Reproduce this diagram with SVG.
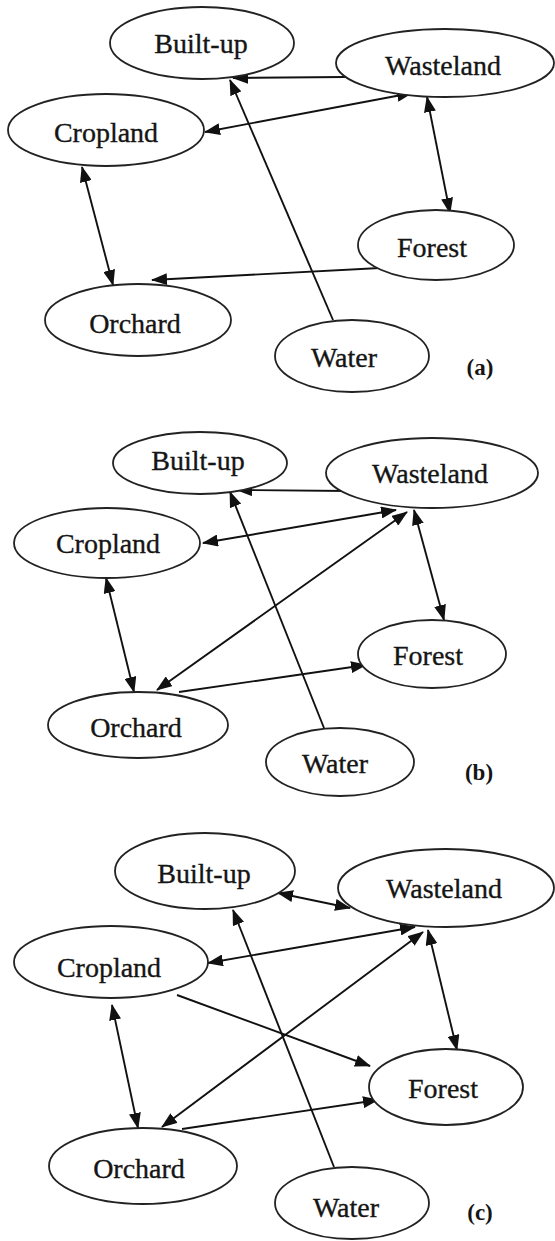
<svg xmlns="http://www.w3.org/2000/svg" width="555" height="1241" viewBox="0 0 555 1241">
<style>
.node ellipse{fill:#fff;stroke:#222;stroke-width:1.8}
.node text{font-family:"Liberation Serif","Times New Roman",serif;font-size:28px;fill:#151515;stroke:#151515;stroke-width:0.35;text-anchor:middle}
.lbl{font-family:"Liberation Serif","Times New Roman",serif;font-size:23px;font-weight:bold;fill:#151515;text-anchor:middle}
.edges line{stroke:#111;stroke-width:1.9;fill:none}
.one{marker-end:url(#ah)}
.two{marker-start:url(#ah);marker-end:url(#ah)}
</style>
<defs>
<marker id="ah" markerUnits="userSpaceOnUse" markerWidth="16" markerHeight="12" refX="15" refY="6" orient="auto-start-reverse" viewBox="0 0 16 12">
<path d="M0,0 L16,6 L0,12 z" fill="#111"/>
</marker>
</defs>
<rect width="555" height="1241" fill="#fff"/>

<!-- Panel (a) -->
<g id="a-edges" class="edges">
<line class="one" x1="345" y1="77" x2="233" y2="78"/>
<line class="one" x1="333" y1="320" x2="230" y2="80"/>
<line class="two" x1="205" y1="132" x2="412" y2="93"/>
<line class="two" x1="427" y1="97" x2="450" y2="213"/>
<line class="two" x1="82" y1="167" x2="113" y2="285"/>
<line class="one" x1="380" y1="268" x2="152" y2="280"/>
</g>
<g id="a-builtup" class="node"><ellipse cx="202" cy="43" rx="92" ry="36"/><text x="201" y="53">Built-up</text></g>
<g id="a-wasteland" class="node"><ellipse cx="445" cy="63" rx="109" ry="34"/><text x="443" y="75">Wasteland</text></g>
<g id="a-cropland" class="node"><ellipse cx="106" cy="130" rx="98" ry="36"/><text x="106" y="142">Cropland</text></g>
<g id="a-forest" class="node"><ellipse cx="436" cy="245" rx="78" ry="35"/><text x="432" y="257">Forest</text></g>
<g id="a-orchard" class="node"><ellipse cx="138" cy="320" rx="93" ry="36"/><text x="135" y="333">Orchard</text></g>
<g id="a-water" class="node"><ellipse cx="352" cy="356" rx="77" ry="36"/><text x="344" y="367">Water</text></g>
<text class="lbl" x="480" y="375">(a)</text>

<!-- Panel (b) -->
<g id="b-edges" class="edges">
<line class="one" x1="348" y1="491" x2="237" y2="490"/>
<line class="one" x1="324" y1="728" x2="230" y2="492"/>
<line class="two" x1="203" y1="543" x2="396" y2="510"/>
<line class="two" x1="157" y1="690" x2="407" y2="512"/>
<line class="two" x1="414" y1="510" x2="444" y2="620"/>
<line class="two" x1="106" y1="578" x2="134" y2="692"/>
<line class="one" x1="179" y1="692" x2="366" y2="665"/>
</g>
<g id="b-builtup" class="node"><ellipse cx="200" cy="463" rx="87" ry="31"/><text x="198" y="470">Built-up</text></g>
<g id="b-wasteland" class="node"><ellipse cx="432" cy="473" rx="106" ry="35"/><text x="430" y="483">Wasteland</text></g>
<g id="b-cropland" class="node"><ellipse cx="107" cy="543" rx="93" ry="35"/><text x="108" y="553">Cropland</text></g>
<g id="b-forest" class="node"><ellipse cx="432" cy="654" rx="74" ry="34"/><text x="428" y="665">Forest</text></g>
<g id="b-orchard" class="node"><ellipse cx="138" cy="725" rx="90" ry="33"/><text x="136" y="737">Orchard</text></g>
<g id="b-water" class="node"><ellipse cx="340" cy="762" rx="74" ry="34"/><text x="335" y="773">Water</text></g>
<text class="lbl" x="479" y="780">(b)</text>

<!-- Panel (c) -->
<g id="c-edges" class="edges">
<line class="two" x1="278" y1="893" x2="350" y2="908"/>
<line class="one" x1="334" y1="1167" x2="233" y2="910"/>
<line class="two" x1="208" y1="963" x2="415" y2="927"/>
<line class="two" x1="162" y1="1127" x2="423" y2="932"/>
<line class="two" x1="428" y1="930" x2="457" y2="1050"/>
<line class="two" x1="112" y1="1005" x2="138" y2="1128"/>
<line class="one" x1="177" y1="995" x2="370" y2="1066"/>
<line class="one" x1="182" y1="1129" x2="378" y2="1100"/>
</g>
<g id="c-builtup" class="node"><ellipse cx="205" cy="871" rx="90" ry="38"/><text x="204" y="883">Built-up</text></g>
<g id="c-wasteland" class="node"><ellipse cx="446" cy="888" rx="108" ry="39"/><text x="444" y="898">Wasteland</text></g>
<g id="c-cropland" class="node"><ellipse cx="111" cy="962" rx="97" ry="36"/><text x="109" y="977">Cropland</text></g>
<g id="c-forest" class="node"><ellipse cx="446" cy="1087" rx="77" ry="38"/><text x="443" y="1098">Forest</text></g>
<g id="c-orchard" class="node"><ellipse cx="143" cy="1166" rx="94" ry="38"/><text x="139" y="1178">Orchard</text></g>
<g id="c-water" class="node"><ellipse cx="352" cy="1203" rx="77" ry="36"/><text x="346" y="1217">Water</text></g>
<text class="lbl" x="480" y="1220">(c)</text>
</svg>
